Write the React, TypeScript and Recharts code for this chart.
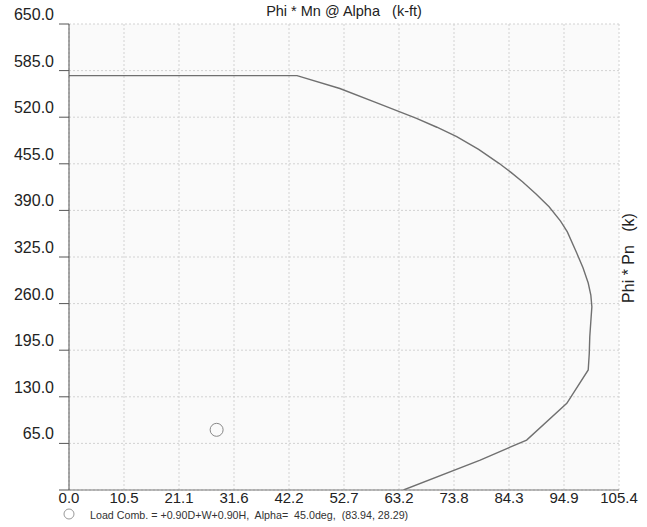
import React from "react";
import { ComposedChart, Line, Scatter, XAxis, YAxis, CartesianGrid } from "recharts";

// interaction curve, Phi*Mn (k-ft) vs Phi*Pn (k)
const curveM = [
  0, 43.7, 51.9, 59.0, 66.6, 70.5, 74.3, 78.5, 82.4, 84.7, 86.9, 89.5, 92.0, 94.2,
  95.5, 97.3, 98.5, 99.5, 100.0, 100.2, 100.0, 99.8, 99.7, 99.5, 95.4, 87.7, 78.8, 64.1,
];
const curveP = [
  578, 578, 560, 540, 518.5, 506, 492.8, 475, 455.7, 443, 430, 413, 395, 375,
  360, 330.5, 310, 288.7, 272, 255.7, 235, 213.8, 190, 167.4, 120.9, 69.7, 41.8, 0,
];

// load combination point
const loadM = [28.29];
const loadP = [83.94];

const xTicks = [0, 10.54, 21.08, 31.62, 42.16, 52.7, 63.24, 73.78, 84.32, 94.86, 105.4];
const yTicks = [0, 65, 130, 195, 260, 325, 390, 455, 520, 585, 650];

const FONT = '"Liberation Sans", Arial, sans-serif';

const curveData = curveM.map((m, i) => ({ m, p: curveP[i] }));
const loadData = loadM.map((m, i) => ({ m, p: loadP[i] }));

const XTick = ({ x, y, payload }: any) => (
  <text x={x} y={y + 13} textAnchor="middle" fontSize={15} fontFamily={FONT} fill="#222">
    {Number(payload.value).toFixed(1)}
  </text>
);

const YTick = ({ x, y, payload }: any) => {
  if (payload.value === 0) return null;
  return (
    <text x={x} y={y - 4} textAnchor="end" fontSize={16} fontFamily={FONT} fill="#222">
      {Number(payload.value).toFixed(1)}
    </text>
  );
};

const LoadDot = ({ cx, cy }: any) => (
  <circle cx={cx} cy={cy} r={6.5} fill="none" stroke="#888" strokeWidth={1} />
);

export default function App() {
  return (
    <div style={{ position: "absolute", left: 0, top: 0, width: 647, height: 527, background: "#fff", fontFamily: FONT }}>
      <ComposedChart width={647} height={527} margin={{ top: 24, right: 28, bottom: 7, left: 0 }}>
        <CartesianGrid stroke="#d2d2d2" strokeDasharray="2 2" fill="#fafafa" />
        <XAxis
          type="number"
          dataKey="m"
          domain={[0, 105.4]}
          ticks={xTicks}
          allowDataOverflow
          height={30}
          tickLine={false}
          tickSize={0}
          tickMargin={0}
          axisLine={{ stroke: "#777" }}
          tick={<XTick />}
        />
        <YAxis
          type="number"
          dataKey="p"
          domain={[0, 650]}
          ticks={yTicks}
          allowDataOverflow
          width={69}
          tickSize={10}
          tickMargin={5}
          tickLine={{ stroke: "#555" }}
          axisLine={{ stroke: "#555" }}
          tick={<YTick />}
        />
        <Line
          data={curveData}
          dataKey="p"
          type="linear"
          stroke="#707070"
          strokeWidth={1.4}
          dot={false}
          isAnimationActive={false}
        />
        <Scatter data={loadData} dataKey="p" shape={<LoadDot />} isAnimationActive={false} />
      </ComposedChart>

      <div
        style={{
          position: "absolute",
          left: 69,
          width: 550,
          top: 2,
          textAlign: "center",
          fontSize: 14.5,
          lineHeight: "18px",
          color: "#222",
          whiteSpace: "pre",
        }}
      >
        {"Phi * Mn @ Alpha   (k-ft)"}
      </div>

      <div
        style={{
          position: "absolute",
          left: 629,
          top: 258,
          transform: "translate(-50%, -50%) rotate(-90deg)",
          fontSize: 16,
          lineHeight: "18px",
          color: "#222",
          whiteSpace: "pre",
        }}
      >
        {"Phi * Pn   (k)"}
      </div>

      <svg style={{ position: "absolute", left: 63, top: 508 }} width={12} height={12}>
        <circle cx={6} cy={6} r={5} fill="none" stroke="#999" strokeWidth={1} />
      </svg>
      <div
        style={{
          position: "absolute",
          left: 90,
          top: 509,
          fontSize: 10.7,
          lineHeight: "12px",
          color: "#333",
          whiteSpace: "pre",
        }}
      >
        {"Load Comb. = +0.90D+W+0.90H,  Alpha=  45.0deg,  (83.94, 28.29)"}
      </div>
    </div>
  );
}
